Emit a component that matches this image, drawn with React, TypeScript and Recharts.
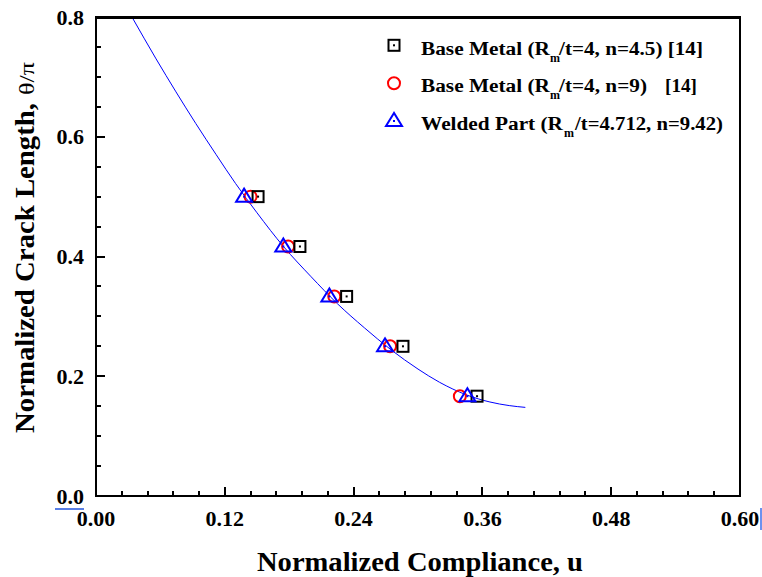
import { ComposedChart, Line, Scatter, XAxis, YAxis, Legend } from "recharts";

// theta/pi levels used for the measured points
const crackLevels = [0.5, 0.4167, 0.3333, 0.25, 0.1667];
const baseMetal45U = [0.151, 0.19, 0.2335, 0.286, 0.355];
const baseMetal9U = [0.144, 0.179, 0.222, 0.274, 0.339];
const weldedU = [0.138, 0.1745, 0.2174, 0.2693, 0.346];

// fitted curve
const curveU = [0.0335, 0.056, 0.0745, 0.093, 0.112, 0.13, 0.15, 0.175, 0.2, 0.225, 0.25, 0.275, 0.3, 0.32, 0.345, 0.367, 0.385, 0.4];
const curveY = [0.8, 0.73, 0.675, 0.622, 0.57, 0.522, 0.473, 0.416, 0.367, 0.321, 0.281, 0.244, 0.212, 0.19, 0.169, 0.157, 0.151, 0.148];

const xMajor = [0, 0.12, 0.24, 0.36, 0.48, 0.6];
const xMinor = [0.024, 0.048, 0.072, 0.096, 0.144, 0.168, 0.192, 0.216, 0.264, 0.288, 0.312, 0.336, 0.384, 0.408, 0.432, 0.456, 0.504, 0.528, 0.552, 0.576];
const yMajor = [0, 0.2, 0.4, 0.6, 0.8];
const yMinor = [0.05, 0.1, 0.15, 0.25, 0.3, 0.35, 0.45, 0.5, 0.55, 0.65, 0.7, 0.75];

const seriesNames = ["Base Metal (R", "Base Metal (R", "Welded Part (R"];
const seriesTails = ["/t=4, n=4.5) [14]", "/t=4, n=9)", "/t=4.712, n=9.42)"];

const curve = curveU.map((u, i) => ({ u, y: curveY[i] }));
const sq = baseMetal45U.map((u, i) => ({ u, y: crackLevels[i] }));
const circ = baseMetal9U.map((u, i) => ({ u, y: crackLevels[i] }));
const tri = weldedU.map((u, i) => ({ u, y: crackLevels[i] }));

const FONT = '"Liberation Serif", "Times New Roman", serif';
const TOP = 17;

const SquareMark = ({ cx, cy }: any) => (
  <g>
    <rect x={cx - 5.5} y={cy - 5.5} width={11} height={11} fill="none" stroke="#000" strokeWidth={2} />
    <rect x={cx - 1} y={cy - 1} width={2} height={2} fill="#000" />
  </g>
);
const CircleMark = ({ cx, cy }: any) => (
  <circle cx={cx} cy={cy} r={6} fill="none" stroke="#ff0000" strokeWidth={2} />
);
const TriMark = ({ cx, cy }: any) => (
  <g>
    <path d={`M${cx},${cy - 8}L${cx - 8},${cy + 5}L${cx + 8},${cy + 5}Z`} fill="none" stroke="#0000ff" strokeWidth={2} />
    <rect x={cx - 1} y={cy - 1} width={2} height={2} fill="#0000ff" />
  </g>
);

const XTick = ({ x, y, payload }: any) => {
  const v = payload.value;
  const major = xMajor.includes(v);
  return (
    <g>
      <line x1={x} y1={y} x2={x} y2={y - (major ? 9 : 5)} stroke="#000" strokeWidth={2} shapeRendering="crispEdges" />
      {major && (
        <text x={x} y={y + 30} textAnchor="middle" fontSize={22} fontWeight="bold" fontFamily={FONT} fill="#000">
          {v.toFixed(2)}
        </text>
      )}
      {v === 0.6 && <line x1={761} y1={508} x2={761} y2={530} stroke="#3d6dea" strokeWidth={1.5} />}
    </g>
  );
};

const YTick = ({ x, y, payload }: any) => {
  const v = payload.value;
  const major = yMajor.includes(v);
  return (
    <g>
      <line x1={x} y1={y} x2={x + (major ? 9 : 5)} y2={y} stroke="#000" strokeWidth={2} shapeRendering="crispEdges" />
      {major && (
        <text x={x - 12} y={y} dy="0.35em" textAnchor="end" fontSize={22} fontWeight="bold" fontFamily={FONT} fill="#000">
          {v.toFixed(1)}
        </text>
      )}
      {major && v === 0 && <line x1={x - 41} y1={y + 13} x2={x - 12} y2={y + 13} stroke="#2255dd" strokeWidth={1.5} />}
    </g>
  );
};

// x title plus the plot frame, placed from the axis viewBox
const XTitle = ({ viewBox }: any) => {
  const vb = viewBox || { x: 96, y: 496, width: 644 };
  return (
    <g>
      <rect x={vb.x} y={TOP} width={vb.width} height={vb.y - TOP} fill="none" stroke="#000" strokeWidth={2} shapeRendering="crispEdges" />
      <line x1={vb.x} y1={TOP} x2={vb.x + vb.width} y2={TOP} stroke="#000" strokeWidth={3} shapeRendering="crispEdges" />
      <text x={420} y={571} textAnchor="middle" fontSize={27} fontWeight="bold" fontFamily={FONT} fill="#000"
        textLength={326} lengthAdjust="spacingAndGlyphs">
        Normalized Compliance, u
      </text>
    </g>
  );
};

const YTitle = () => (
  <g transform="translate(34,433) rotate(-90)">
    <text x={0} y={0} fontSize={27} fontWeight="bold" fontFamily={FONT} fill="#000" textLength={330} lengthAdjust="spacingAndGlyphs">
      Normalized Crack Length,
    </text>
    <text x={338} y={0} fontSize={20} fontFamily={FONT} fill="#000" textLength={33} lengthAdjust="spacingAndGlyphs">
      θ/π
    </text>
  </g>
);

const legendRows = [
  { mark: SquareMark, my: 17.3, by: 27, headLen: 129, mx: 172, tailX: 181, tailLen: 144 },
  { mark: CircleMark, my: 55.3, by: 64, headLen: 129, mx: 172, tailX: 181, tailLen: 88 },
  { mark: TriMark, my: 93, by: 102, headLen: 142, mx: 186, tailX: 197, tailLen: 148 },
];

const LegendBox = () => (
  <svg width={370} height={120} style={{ display: "block" }}>
    {legendRows.map((r, i) => {
      const M = r.mark;
      return (
        <g key={i} fontFamily={FONT} fontWeight="bold" fill="#000">
          <M cx={16} cy={r.my} />
          <text x={43} y={r.by} fontSize={18.5} textLength={r.headLen} lengthAdjust="spacingAndGlyphs">{seriesNames[i]}</text>
          <text x={r.mx} y={r.by + 7} fontSize={12}>m</text>
          <text x={r.tailX} y={r.by} fontSize={18.5} textLength={r.tailLen} lengthAdjust="spacingAndGlyphs">{seriesTails[i]}</text>
          {i === 1 && (
            <text x={287} y={r.by} fontSize={18.5} textLength={32} lengthAdjust="spacingAndGlyphs">[14]</text>
          )}
        </g>
      );
    })}
  </svg>
);

export default function App() {
  return (
    <div style={{ position: "absolute", left: 0, top: 0 }}>
      <ComposedChart width={762} height={577} margin={{ top: TOP, right: 22, bottom: 0, left: 0 }} style={{ fontFamily: FONT }}>
        <XAxis dataKey="u" type="number" domain={[0, 0.6]} ticks={[...xMajor, ...xMinor]} interval={0}
          tickSize={0} tickMargin={0} axisLine={false} tickLine={false} height={81} tick={XTick} label={XTitle} />
        <YAxis dataKey="y" type="number" domain={[0, 0.8]} ticks={[...yMajor, ...yMinor]} interval={0}
          tickSize={0} tickMargin={0} axisLine={false} tickLine={false} width={96} tick={YTick} label={YTitle} />
        <Line data={curve} dataKey="y" type="monotone" dot={false} stroke="#0000ff" strokeWidth={1} isAnimationActive={false} />
        <Scatter data={circ} dataKey="y" shape={CircleMark} isAnimationActive={false} />
        <Scatter data={sq} dataKey="y" shape={SquareMark} isAnimationActive={false} />
        <Scatter data={tri} dataKey="y" shape={TriMark} isAnimationActive={false} />
        <Legend layout="horizontal" verticalAlign="middle" align="center" content={LegendBox}
          wrapperStyle={{ left: 378, top: 28, width: 370, height: 120 }} />
      </ComposedChart>
    </div>
  );
}
